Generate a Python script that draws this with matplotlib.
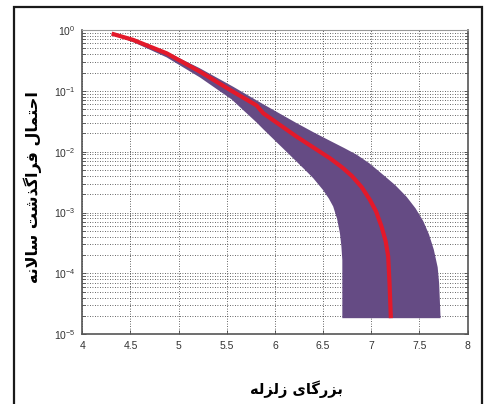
import matplotlib
matplotlib.use("Agg")
import matplotlib.pyplot as plt
from matplotlib.patches import Rectangle
from matplotlib.ticker import LogLocator, NullFormatter, FixedLocator

# ---- data ----
# lower (left) edge of the uncertainty band: magnitude, log10(annual exceedance prob.)
lower_mag = [4.305, 4.53, 4.876, 5.222, 5.55, 5.81, 5.879, 6.10, 6.225, 6.32,
             6.398, 6.50, 6.56, 6.605, 6.645, 6.675, 6.69, 6.70, 6.70, 6.70]
lower_logp = [-0.07, -0.20, -0.45, -0.78, -1.14, -1.52, -1.63, -1.97, -2.163, -2.31,
              -2.435, -2.63, -2.77, -2.90, -3.10, -3.34, -3.55, -3.78, -4.20, -4.735]
# upper (right) edge of the band
upper_mag = [4.305, 4.53, 4.876, 5.222, 5.564, 5.879, 6.225, 6.40, 6.571, 6.72,
             6.85, 6.98, 7.124, 7.25, 7.367, 7.46, 7.54, 7.60, 7.65, 7.69, 7.705, 7.72]
upper_logp = [-0.05, -0.15, -0.36, -0.63, -0.93, -1.22, -1.53, -1.68, -1.82, -1.94,
              -2.05, -2.19, -2.38, -2.55, -2.74, -2.93, -3.14, -3.36, -3.61, -3.90, -4.16, -4.735]
# median curve
median_mag = [4.305, 4.53, 4.876, 5.222, 5.55, 5.81, 5.879, 6.225, 6.467, 6.571,
              6.70, 6.80, 6.90, 6.986, 7.05, 7.107, 7.15, 7.176, 7.19, 7.204]
median_logp = [-0.06, -0.164, -0.383, -0.685, -1.0, -1.24, -1.368, -1.752, -2.0, -2.107,
               -2.26, -2.40, -2.58, -2.79, -2.98, -3.23, -3.47, -3.72, -4.16, -4.735]

x_ticks = [4, 4.5, 5, 5.5, 6, 6.5, 7, 7.5, 8]
x_ticklabels = ["4", "4.5", "5", "5.5", "6", "6.5", "7", "7.5", "8"]

# Persian labels (Arabic presentation forms, reversed into visual order for LTR rendering)
xlabel_logical = "\uFE91\uFEB0\uFEAD\uFB94\uFE8E\uFBFC \uFEAF\uFEDF\uFEB0\uFEDF\uFEEA"  # بزرگای زلزله
ylabel_logical = ("\uFE8D\uFEA3\uFE98\uFEE4\uFE8E\uFEDD "        # احتمال
                  "\uFED3\uFEAE\uFE8D\uFB94\uFEAC\uFEB7\uFE96 "   # فراگذشت
                  "\uFEB3\uFE8E\uFEFB\uFEE7\uFEEA")               # سالانه
xlabel_text = xlabel_logical[::-1]
ylabel_text = ylabel_logical[::-1]

PURPLE = "#654B84"
RED = "#E3192A"

lower_p = [10 ** v for v in lower_logp]
upper_p = [10 ** v for v in upper_logp]
median_p = [10 ** v for v in median_logp]

fig = plt.figure(figsize=(4.84, 4.04), dpi=100)
ax = fig.add_axes([0.170, 0.1725, 0.796, 0.7533])

poly_x = lower_mag + upper_mag[::-1]
poly_y = lower_p + upper_p[::-1]
ax.fill(poly_x, poly_y, color=PURPLE, linewidth=0, zorder=3)
ax.plot(median_mag, median_p, color=RED, linewidth=3.0, solid_capstyle="butt",
        solid_joinstyle="round", zorder=4)

ax.set_yscale("log")
ax.set_xlim(4, 8)
ax.set_ylim(1e-5, 1)
ax.xaxis.set_major_locator(FixedLocator(x_ticks))
ax.set_xticklabels(x_ticklabels)
ax.yaxis.set_major_locator(LogLocator(base=10, numticks=10))
ax.yaxis.set_minor_locator(LogLocator(base=10, subs=range(2, 10), numticks=20))
ax.yaxis.set_minor_formatter(NullFormatter())

dot = (0, (1, 2.0))
ax.grid(True, which="major", axis="both", color="#333333", linestyle=dot, linewidth=0.6, zorder=1)
ax.grid(True, which="minor", axis="y", color="#333333", linestyle=dot, linewidth=0.6, zorder=1)
ax.set_axisbelow(True)

ax.tick_params(which="both", direction="in", top=False, right=True, labelsize=7.5,
               labelcolor="#333333", color="#444444", width=0.6)
ax.tick_params(which="major", length=3, pad=5)
ax.tick_params(which="minor", length=2)
for lab in ax.get_xticklabels() + ax.get_yticklabels():
    lab.set_family(["Liberation Sans", "DejaVu Sans"])

for side in ["left", "bottom", "right"]:
    ax.spines[side].set_color("#555555")
    ax.spines[side].set_linewidth(1.2)
ax.spines["top"].set_color("#999999")
ax.spines["top"].set_linewidth(0.8)

fig.text(296 / 484, 1 - 389 / 404, xlabel_text, ha="center", va="center",
         fontsize=10.5, fontweight="bold", family=["DejaVu Sans"])
fig.text(33 / 484, 1 - 187 / 404, ylabel_text, ha="center", va="center",
         rotation=90, fontsize=11.5, fontweight="bold", family=["DejaVu Sans"])

# outer frame
fig.patches.append(Rectangle((14 / 484, -0.05), (482 - 14) / 484, 1.05 - 7 / 404,
                             transform=fig.transFigure, fill=False,
                             edgecolor="#1a1a1a", linewidth=1.6))

fig.savefig("out.png", dpi=100)
